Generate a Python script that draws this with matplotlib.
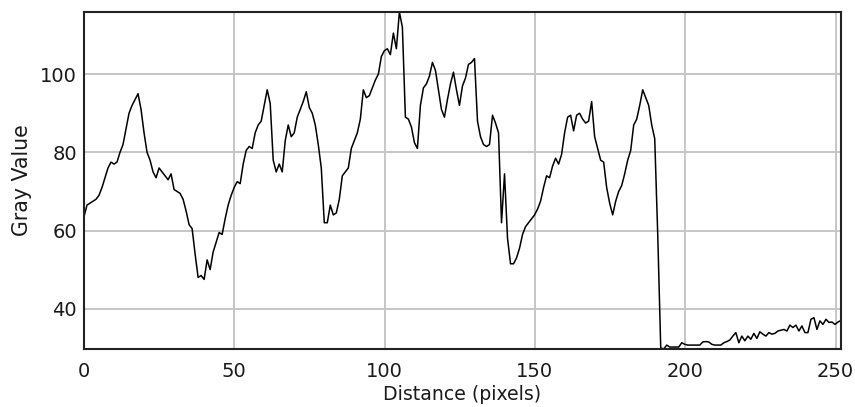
import numpy as np
import matplotlib
matplotlib.use('Agg')
import matplotlib.pyplot as plt

# gray values along the profile line
gray = [
    63.5, 66.5, 67, 67.5, 68, 69, 71, 73.5, 76, 77.5,
    77, 77.5, 80, 82, 86, 90, 92, 93.5, 95, 91,
    85, 80, 78, 75, 73.5, 76, 75, 74, 73, 74.5,
    70.5, 70, 69.5, 68, 65, 61.5, 60.5, 54, 48, 48.5,
    47.5, 52.5, 50, 54.5, 57, 59.5, 59, 63, 66.5, 69,
    71, 72.5, 72, 77, 80.5, 81.5, 81, 85, 87, 88,
    92, 96, 92.5, 78, 75, 77, 75, 83, 87, 84,
    85, 89, 91, 93, 95.5, 91.5, 90, 87, 82, 76,
    62, 62, 66.5, 64, 64.5, 68, 74, 75, 76, 81,
    83, 85, 88.5, 96, 94, 94.5, 96.5, 98.5, 100, 104.5,
    106, 106.5, 105, 110.5, 106.5, 115.9, 112, 89, 88.5, 86.5,
    82.5, 81, 92, 96.5, 97.5, 99.5, 103, 101, 96, 91,
    89, 93.5, 97.5, 100.5, 96, 92, 97, 99, 102.5, 103,
    104, 88, 84, 82, 81.5, 82, 89.5, 87.5, 85, 62,
    74.5, 58, 51.5, 51.5, 53, 55.5, 59, 61, 62, 63,
    64, 65.5, 67.5, 71, 74, 73.5, 76.5, 78.5, 77, 79.5,
    85, 89, 89.5, 85.5, 89.5, 90, 88.5, 87.5, 88, 93,
    84, 81, 78, 77.5, 71, 67, 64, 67.5, 70, 71.5,
    74.5, 78, 80.5, 87, 88.5, 92, 96, 94, 92, 87,
    83.5, 59, 30, 29.7, 30.7, 30.2, 30.2, 30.2, 30.2, 31.3,
    30.9, 30.7, 30.7, 30.7, 30.7, 30.7, 31.5, 31.6, 31.5, 30.9,
    30.7, 30.7, 30.7, 31.3, 31.6, 32, 33, 33.9, 31.3, 33,
    31.8, 33, 32.2, 33.7, 32.4, 34.1, 33.5, 33, 33.9, 33.5,
    33.7, 34.3, 34.5, 34.7, 34.3, 35.8, 35.2, 35.8, 34.3, 35.6,
    33.9, 33.9, 37.3, 37.7, 34.7, 36.9, 36, 37.3, 36.5, 36.6,
    36, 36.6, 37,
]
dist = np.linspace(0, 251.8, len(gray))

x_ticks = [0, 50, 100, 150, 200, 250]
y_ticks = [40, 60, 80, 100]

fig = plt.figure(figsize=(8.55, 4.07), dpi=100)
ax = fig.add_axes([0.0982, 0.1425, 0.8854, 0.828])

ax.plot(dist, gray, color='black', lw=1.1)

ax.set_xlim(0, 251.8)
ax.set_ylim(min(gray), max(gray))
ax.set_xticks(x_ticks)
ax.set_yticks(y_ticks)
ax.grid(True, color='#c6c6c6', lw=1.4)
ax.set_axisbelow(True)
ax.tick_params(axis='both', length=0, labelsize=14, colors='#1a1a1a')
ax.tick_params(axis='x', pad=9.5)
ax.tick_params(axis='y', pad=5)
for s in ax.spines.values():
    s.set_linewidth(1.5)
    s.set_color('#222222')

ax.set_xlabel('Distance (pixels)', fontsize=13.6, labelpad=3, color='#1a1a1a')
ax.set_ylabel('Gray Value', fontsize=14.8, labelpad=6, color='#1a1a1a')

fig.savefig('out.png', dpi=100)
